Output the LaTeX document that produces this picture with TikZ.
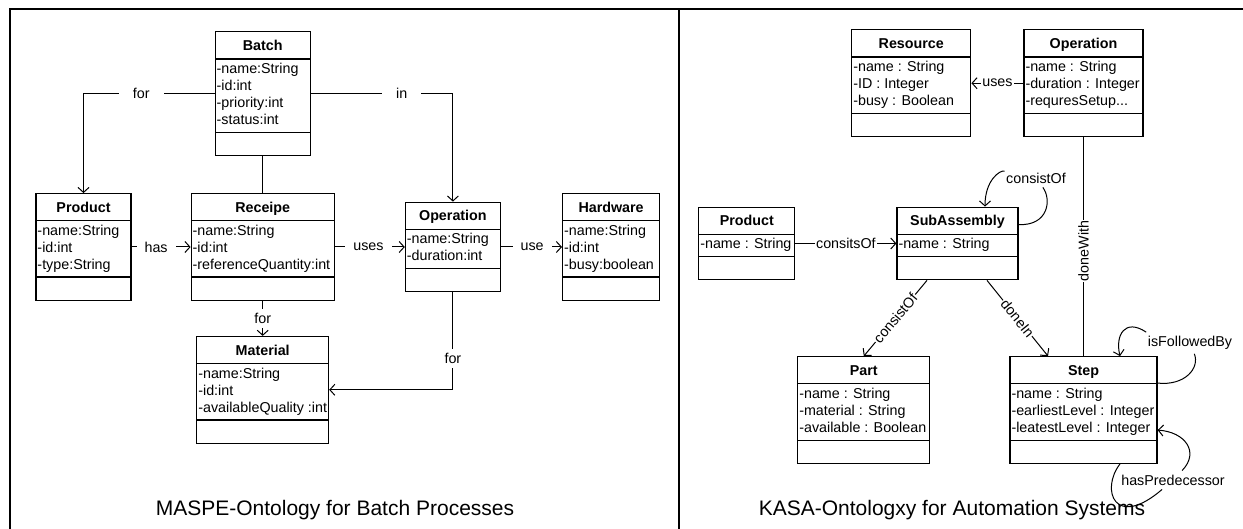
\documentclass[tikz,border=0pt]{standalone}
\usepackage{fontspec}
\setmainfont{Liberation Sans}
\usetikzlibrary{shapes.multipart, arrows.meta, positioning}

\newcommand{\umlfont}{\fontsize{14.3}{17}\selectfont}

\begin{document}
\begin{tikzpicture}[x=1pt, y=-1pt,
        umlclass/.style={rectangle split, rectangle split parts=3, draw, line width=1.2pt, font=\umlfont, align=left,
            inner xsep=1.5pt, inner ysep=2pt, rectangle split part align={center,left,left}},
        line/.style={draw, line width=1pt},
        arr/.style={line, -{Straight Barb[length=5pt,width=11pt]}},
        lbl/.style={fill=white, font=\umlfont, inner xsep=#1, inner ysep=4pt},
        lbl/.default=1.5pt,
        title/.style={font=\fontsize{21}{25}\selectfont}]

        \useasboundingbox (0,0) rectangle (1243,529);
        \draw [line width=2pt] (10,529) -- (10,9) -- (1243,9);
        \draw [line width=2pt] (679,9) -- (679,529);

        % MASPE classes
        \node [umlclass, minimum width=95pt] (product) at (83.5,247) {\rule[-6pt]{0pt}{22pt}\textbf{Product}
            \nodepart{two}\strut-name:String\\-id:int\\-type:String\strut
            \nodepart{three}\rule{0pt}{18pt}};
        \node [umlclass, minimum width=143pt, right=59pt of product] (receipe) {\rule[-6pt]{0pt}{22pt}\textbf{Receipe}
            \nodepart{two}\strut-name:String\\-id:int\\-referenceQuantity:int\strut
            \nodepart{three}\rule{0pt}{18pt}};
        \node [umlclass, minimum width=95pt, right=70pt of receipe] (operation) {\rule[-6pt]{0pt}{22pt}\textbf{Operation}
            \nodepart{two}\strut-name:String\\-duration:int\strut
            \nodepart{three}\rule{0pt}{18pt}};
        \node [umlclass, minimum width=97pt, right=61pt of operation] (hardware) {\rule[-6pt]{0pt}{22pt}\textbf{Hardware}
            \nodepart{two}\strut-name:String\\-id:int\\-busy:boolean\strut
            \nodepart{three}\rule{0pt}{18pt}};
        \node [umlclass, minimum width=95pt, above=37pt of receipe] (batch) {\rule[-6pt]{0pt}{22pt}\textbf{Batch}
            \nodepart{two}\strut-name:String\\-id:int\\-priority:int\\-status:int\strut
            \nodepart{three}\rule{0pt}{18pt}};
        \node [umlclass, minimum width=131pt, below=35pt of receipe] (material) {\rule[-6pt]{0pt}{22pt}\textbf{Material}
            \nodepart{two}\strut-name:String\\-id:int\\-availableQuality :int\strut
            \nodepart{three}\rule{0pt}{18pt}};

        % KASA classes
        \node [umlclass, minimum width=121pt] (subassembly) at (957.5,243.5) {\rule[-6pt]{0pt}{22pt}\textbf{SubAssembly}
            \nodepart{two}\strut-name : String\strut
            \nodepart{three}\rule{0pt}{18pt}};
        \node [umlclass, minimum width=96pt, left=101pt of subassembly] (kproduct) {\rule[-6pt]{0pt}{22pt}\textbf{Product}
            \nodepart{two}\strut-name : String\strut
            \nodepart{three}\rule{0pt}{18pt}};
        \node [umlclass, minimum width=147pt] (step) at (1083.5,410) {\rule[-6pt]{0pt}{22pt}\textbf{Step}
            \nodepart{two}\strut-name : String\\-earliestLevel : Integer\\-leatestLevel : Integer\strut
            \nodepart{three}\rule{0pt}{18pt}};
        \node [umlclass, minimum width=132pt, left=79pt of step] (part) {\rule[-6pt]{0pt}{22pt}\textbf{Part}
            \nodepart{two}\strut-name : String\\-material : String\\-available : Boolean\strut
            \nodepart{three}\rule{0pt}{18pt}};
        \node [umlclass, minimum width=119pt, above=219pt of step] (kop) {\rule[-6pt]{0pt}{22pt}\textbf{Operation}
            \nodepart{two}\strut-name : String\\-duration : Integer\\-requresSetup...\strut
            \nodepart{three}\rule{0pt}{18pt}};
        \node [umlclass, minimum width=119pt, left=52pt of kop] (resource) {\rule[-6pt]{0pt}{22pt}\textbf{Resource}
            \nodepart{two}\strut-name : String\\-ID : Integer\\-busy : Boolean\strut
            \nodepart{three}\rule{0pt}{18pt}};

        \node [title] (maspe) at (335,510) {MASPE-Ontology for Batch Processes};
        \node [title] (kasa) at (952,510) {KASA-Ontologxy for Automation Systems};

        % Paths
        \path [arr] (batch.west) -| node [lbl=14pt, pos=0.28] {for} (product.north);
        \path [arr] (batch.east) -| node [lbl=14pt, pos=0.32] {in} (operation.north);
        \path [line] (batch) -- (receipe);
        \path [arr] (product) -- node [lbl=8pt, pos=0.415] {has} (receipe);
        \path [arr] (receipe) -- node [lbl=8pt, pos=0.48] {uses} (operation);
        \path [arr] (operation) -- node [lbl=8pt, pos=0.51] {use} (hardware);
        \path [arr] (receipe) -- node [lbl] {for} (material);
        \path [arr] (operation.south) |- node [lbl, pos=0.34] {for} (material.east);

        \path [arr] (kop) -- node [lbl] {uses} (resource);
        \path [arr] (kproduct) -- node [lbl] {consitsOf} (subassembly);
        \path [arr] ([xshift=-30.5pt]subassembly.south) -- node [lbl=1pt, sloped] {consistOf} (part.north);
        \path [arr] ([xshift=29.5pt]subassembly.south) -- node [lbl=1pt, sloped] {doneIn} ([xshift=-35.5pt]step.north);
        \path [line] (kop) -- node [lbl=1pt, rotate=90, pos=0.52] {doneWith} (step);

        % Self loops
        \node [lbl] (subloop) at (1036,178) {consistOf};
        \path [line] ([yshift=-18pt]subassembly.north east) .. controls (1048,226) and (1052,200) .. (subloop);
        \path [arr] (subloop) .. controls (1000,170) and (985,180) .. ([xshift=27.5pt]subassembly.north);

        \node [lbl] (followlbl) at (1190,343) {isFollowedBy};
        \path [line] ([yshift=-27pt]step.north east) .. controls (1185,386) and (1200,368) .. (followlbl);
        \path [arr] (followlbl.north west) .. controls (1125,318) and (1115,335) .. ([xshift=36.5pt]step.north);

        \node [lbl] (predlbl) at (1173,480) {hasPredecessor};
        \path [line] ([xshift=36.5pt]step.south) .. controls (1100,490) and (1115,530) .. (predlbl);
        \path [arr] (predlbl) .. controls (1200,452) and (1185,432) .. ([yshift=-74pt]step.north east);

    \end{tikzpicture}
\end{document}
